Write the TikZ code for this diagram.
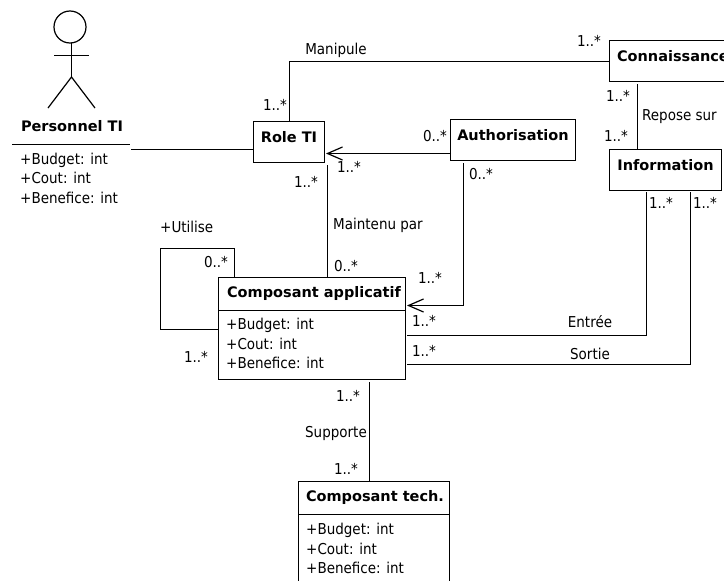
\documentclass[tikz,border=0pt]{standalone}
\usepackage{fontspec}
\setmainfont{DejaVu Sans Condensed}[BoldFont={DejaVu Sans Bold}]
\usetikzlibrary{arrows.meta}
\tikzset{
    classbox/.style={draw,line width=1.2pt,inner xsep=0pt,inner ysep=0pt,font=\bfseries\fontsize{14.5}{16}\selectfont,text height=21pt,text depth=20pt},
    titletext/.style={inner sep=0pt,font=\bfseries\fontsize{14.5}{16}\selectfont},
    attrs/.style={anchor=north west,inner sep=0pt,align=left,font=\fontsize{15}{19.5}\selectfont},
    mult/.style={inner sep=0pt,font=\fontsize{15}{16}\selectfont},
    lbl/.style={inner sep=0pt,font=\fontsize{15}{16}\selectfont},
    assoc/.style={line width=1.2pt},
    openarrow/.style={line width=1.2pt,-{Straight Barb[length=15pt,width=13pt,line width=1.2pt]}}
}
\begin{document}
\begin{tikzpicture}[x=1pt,y=-1pt]
    \clip (0,0) rectangle (724,581);

    % actor
    \node[circle,draw,line width=1.2pt,minimum size=32pt,inner sep=0pt] (head) at (70,27) {};
    \coordinate (hip) at (71.5,77);
    \coordinate (armL) at (54,55.5); \coordinate (armR) at (89,55.5);
    \coordinate (legL) at (48,108); \coordinate (legR) at (95,108);
    \draw[assoc] (71.5,43) -- (hip);
    \draw[assoc] (armL) -- (armR);
    \draw[assoc] (legL) -- (hip) -- (legR);
    \node[titletext] (personnel) at (72,126) {Personnel TI};
    \draw[assoc] (12,144.5) -- (130,144.5);
    \coordinate (persEnd) at (131,149.5);

    % classes
    \node[classbox,minimum width=71pt] (role) at (289,142) {Role TI};
    \node[classbox,minimum width=125pt] (auth) at (513,140) {Authorisation};
    \node[classbox,minimum width=160pt,text width=145pt] (conn) at (689.5,61) {Connaissance};
    \node[classbox,minimum width=112pt] (info) at (665.5,170) {Information};
    \draw[assoc] (218.5,277.5) rectangle (405.5,379.5);
    \node[titletext] (appTitle) at (314,293) {Composant applicatif};
    \draw[assoc] (218.5,310.5) -- (406,310.5);
    \draw[assoc] (298.5,481.5) rectangle (449.5,600);
    \node[titletext] (techTitle) at (375,497) {Composant tech.};
    \draw[assoc] (298.5,514.5) -- (450,514.5);

    % attributes
    \foreach \name/\xx/\yy in {persAttr/20/152.5,appAttr/226/318,techAttr/306/523} {
        \node[attrs] (\name) at (\xx,\yy) {+Budget: int\\+Cout: int\\+Benefice: int};
    }

    % free ends of the connectors
    \coordinate (connIn) at (609.5,61.5);
    \coordinate (appTop) at (327.5,277);
    \coordinate (roleDown) at (327.5,165);
    \coordinate (roleIn) at (326,153.5);
    \coordinate (authOut) at (451,153.5);
    \coordinate (authDown) at (463.5,163);
    \coordinate (appAuth) at (407,305.5);
    \coordinate (connDown) at (637.5,84);
    \coordinate (infoTop) at (637.5,149);
    \coordinate (infoE) at (646.5,192);
    \coordinate (infoS) at (690.5,192);
    \coordinate (appE) at (407,335.5);
    \coordinate (appS) at (407,364.5);
    \coordinate (appBot) at (369.5,382);
    \coordinate (techTop) at (369.5,481);
    \coordinate (loopA) at (234.5,277);
    \coordinate (loopB) at (218.5,329.5);

    \draw[assoc] (persEnd) -- (persEnd -| role.west);
    \draw[assoc] ([xshift=.5pt]role.north) |- (connIn);
    \draw[openarrow] (authOut) -- (roleIn);
    \draw[assoc] (roleDown) -- (appTop);
    \draw[openarrow] (authDown) |- (appAuth);
    \draw[assoc] (connDown) -- (infoTop);
    \draw[assoc] (infoE) |- (appE);
    \draw[assoc] (infoS) |- (appS);
    \draw[assoc] (appBot) -- (techTop);
    \draw[assoc] (loopA) -- (234.5,248.5) -- (160.5,248.5) -- (160.5,329.5) -- (loopB);

    % multiplicities
    \foreach \n/\xx/\yy/\txt in {a/275/105/1..*,b/589/41/1..*,c/618/96/1..*,d/616/136/1..*,
        e/435/136/0..*,f/349/167/1..*,g/306/182/1..*,h/346/266/0..*,i/216/262/0..*,
        j/481/174/0..*,k/430/278/1..*,l/661/203/1..*,m/705/203/1..*,n/424/321/1..*,
        o/424/351/1..*,p/196/357/1..*,q/348/396/1..*,r/346/469/1..*} {
        \node[mult] (m\n) at (\xx,\yy) {\txt};
    }

    % labels
    \node[lbl] (manipule) at (336,50) {Manipule};
    \node[lbl,anchor=west] (repose) at (642,117) {Repose sur};
    \node[lbl,anchor=west] (maintenu) at (333,225) {Maintenu par};
    \node[lbl,anchor=west] (utilise) at (160,227) {+Utilise};
    \node[lbl] (entree) at (590,322) {Entrée};
    \node[lbl] (sortie) at (590,354) {Sortie};
    \node[lbl] (supporte) at (336,433) {Supporte};
\end{tikzpicture}
\end{document}
